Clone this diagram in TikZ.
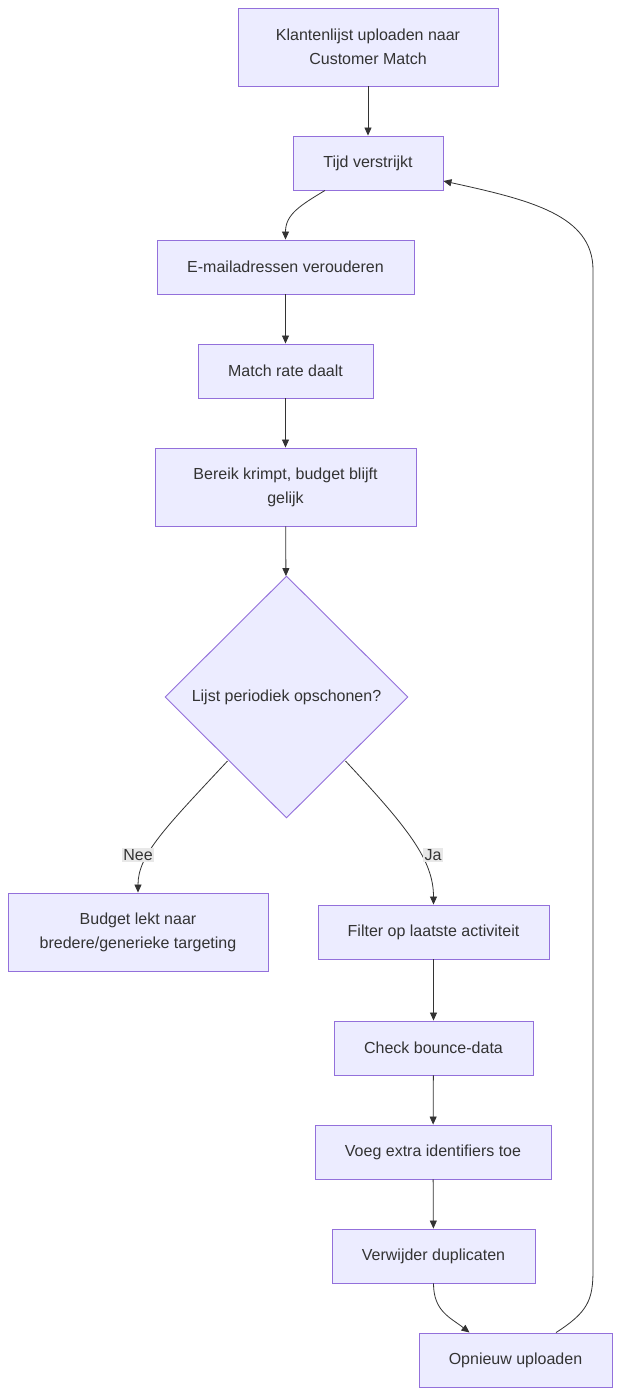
\documentclass[tikz,border=0pt]{standalone}
\usepackage{fontspec}
\setmainfont{Liberation Sans}
\usetikzlibrary{arrows.meta,shapes.geometric,calc}
\definecolor{nfill}{HTML}{ECECFF}
\definecolor{nstroke}{HTML}{9370DB}
\definecolor{ntext}{HTML}{333333}
\definecolor{lblbg}{HTML}{E8E8E8}
\begin{document}
\begin{tikzpicture}[x=1pt,y=-1pt,
  box/.style={draw=nstroke,fill=nfill,line width=0.9pt,text=ntext,font=\fontsize{16}{24}\selectfont,align=center,inner sep=0pt},
  dia/.style={diamond,draw=nstroke,fill=nfill,line width=0.9pt,text=ntext,font=\fontsize{16}{24}\selectfont,inner sep=0pt,minimum width=243pt,minimum height=242pt},
  arr/.style={draw=ntext,line width=0.8pt,-{Triangle[length=8pt,width=7pt]}},
  lbl/.style={fill=lblbg,text=ntext,font=\fontsize{16}{18}\selectfont,inner sep=1.5pt}]
\useasboundingbox (0,0) rectangle (621,1395);
\fill[white] (0,0) rectangle (621,1395);
\node[box,minimum width=260pt,minimum height=78pt] (A) at (368,47) {Klantenlijst uploaden naar\\Customer Match};
\node[box,minimum width=150pt,minimum height=54pt] (B) at (368,163) {Tijd verstrijkt};
\node[box,minimum width=257pt,minimum height=54pt] (C) at (285.5,267) {E-mailadressen verouderen};
\node[box,minimum width=175pt,minimum height=54pt] (D) at (285.5,371) {Match rate daalt};
\node[box,minimum width=261pt,minimum height=78pt] (E) at (285.5,487) {Bereik krimpt, budget blijft\\gelijk};
\node[dia] (F) at (286.5,697) {Lijst periodiek opschonen?};
\node[box,minimum width=260pt,minimum height=78pt] (G) at (138,932) {Budget lekt naar\\bredere/generieke targeting};
\node[box,minimum width=231pt,minimum height=54pt] (H) at (433.5,932) {Filter op laatste activiteit};
\node[box,minimum width=199pt,minimum height=54pt] (I) at (433.5,1048) {Check bounce-data};
\node[box,minimum width=236pt,minimum height=54pt] (J) at (433,1152) {Voeg extra identifiers toe};
\node[box,minimum width=203pt,minimum height=54pt] (K) at (433.5,1256) {Verwijder duplicaten};
\node[box,minimum width=193pt,minimum height=54pt] (L) at (515.5,1360) {Opnieuw uploaden};

\draw[arr] (A) -- (B);
\draw[arr] ($(B.south)+(-43,0)$) .. controls ($(B.south)+(-68,15)$) and ($(C.north)+(0,-25)$) .. (C.north);
\draw[arr] (C) -- (D);
\draw[arr] (D) -- (E);
\draw[arr] (E) -- (F);
\coordinate (Fl) at (227.5,761);
\coordinate (Fr) at (345.5,761);
\draw[arr] (Fl) .. controls (165,828) and (138,855) .. (G.north);
\draw[arr] (Fr) .. controls (408,828) and (433.5,860) .. (H.north);
\node[lbl] (nee) at (138,855) {Nee};
\node[lbl] (ja) at (433,855) {Ja};
\draw[arr] (H) -- (I);
\draw[arr] (I) -- (J);
\draw[arr] (J) -- (K);
\draw[arr] (K.south) .. controls ($(K.south)+(0,28)$) and ($(L.north)+(-65,-15)$) .. ($(L.north)+(-46,0)$);
\coordinate (up1) at (593,1270);
\coordinate (up2) at (593,270);
\draw[arr] ($(L.north)+(40.5,0)$) .. controls (588,1312) and (593,1300) .. (up1) -- (up2) .. controls (593,215) and (530,200) .. ($(B.east)+(0,18)$);
\end{tikzpicture}
\end{document}
